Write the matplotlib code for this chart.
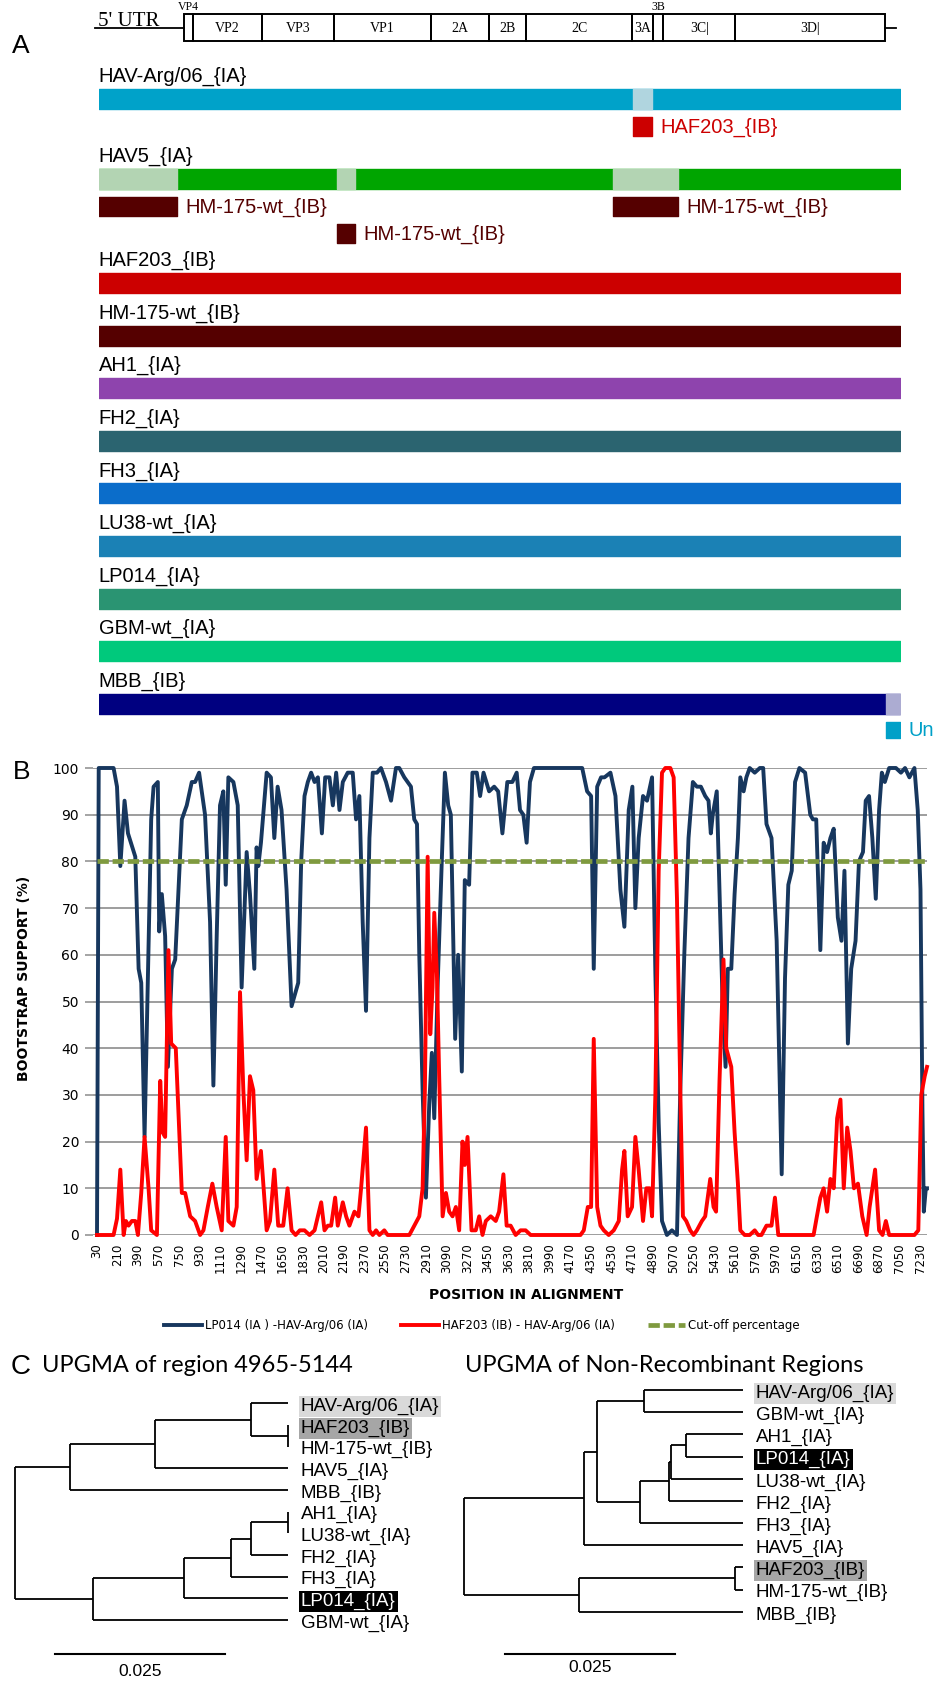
import numpy as np
import matplotlib.pyplot as plt
from matplotlib.patches import Rectangle
from matplotlib.lines import Line2D

# ---------------- panel A data ----------------
genome_len = 7450
gene_bounds = [790, 880, 1520, 2190, 3085, 3630, 3970, 4960, 5150, 5245, 5918, 7310]
gene_names = ["VP4", "VP2", "VP3", "VP1", "2A", "2B", "2C", "3A", "3B", "3C|", "3D|"]

strains = ["HAV-Arg/06_{IA}", "HAV5_{IA}", "HAF203_{IB}", "HM-175-wt_{IB}", "AH1_{IA}",
           "FH2_{IA}", "FH3_{IA}", "LU38-wt_{IA}", "LP014_{IA}", "GBM-wt_{IA}", "MBB_{IB}"]
strain_colors = ["#00a2c9", "#00a500", "#cc0000", "#550000", "#8e44ad",
                 "#2b6470", "#0b6dca", "#1b81b5", "#2a9472", "#00c97c", "#000080"]

# recombinant regions: (strain index, start, end)
recomb_regions = [(0, 4965, 5144), (1, 0, 733), (1, 2220, 2386), (1, 4783, 5383), (10, 7314, 7450)]
recomb_shade = ["#b0d5df", "#b3d4b3", "#b3d4b3", "#b3d4b3", "#acacd2"]
donors = ["HAF203_{IB}", "HM-175-wt_{IB}", "HM-175-wt_{IB}", "HM-175-wt_{IB}", "Un"]
donor_colors = ["#cc0000", "#550000", "#550000", "#550000", "#00a0c8"]
donor_row = [0, 0, 1, 0, 0]

# ---------------- panel B data ----------------
pos_lp014 = [30, 45, 175, 205, 234, 271, 301, 365, 394, 417, 446, 504, 525, 562, 574, 597, 626, 650, 685, 714,
             772, 815, 859, 888, 923, 975, 1019, 1048, 1077, 1106, 1135, 1156, 1179, 1223, 1261, 1295, 1339, 1368,
             1406, 1426, 1441, 1464, 1514, 1551, 1581, 1610, 1644, 1688, 1732, 1790,
             1816, 1845, 1874, 1903, 1933, 1962, 1997, 2026, 2063, 2093, 2122, 2151, 2180, 2223, 2267, 2296, 2325,
             2354, 2383, 2413, 2442, 2479, 2514, 2558, 2602, 2645, 2674, 2718, 2776, 2805, 2829, 2849, 2878, 2907,
             2936, 2959, 2980, 3009, 3047, 3073, 3102, 3125, 3163, 3189, 3221, 3247, 3285, 3314, 3352, 3381, 3411,
             3460, 3504, 3539, 3576,
             3619, 3663, 3701, 3730, 3759, 3788, 3817, 3852, 4274, 4317, 4352, 4375, 4405, 4439, 4469, 4521, 4565,
             4608, 4643, 4681, 4713, 4739, 4768, 4806, 4841, 4885, 4914, 4943, 4972, 5015, 5059, 5103, 5132, 5167,
             5204, 5242, 5277, 5312, 5350, 5379, 5399,
             5416, 5451, 5475, 5504, 5528, 5548, 5578, 5607, 5636, 5657, 5686, 5710, 5739, 5783, 5828, 5857, 5886,
             5930, 5975, 6019, 6048, 6077, 6107, 6136, 6174, 6224, 6269, 6292, 6321, 6357, 6386, 6416, 6445, 6474,
             6510, 6542, 6568, 6598, 6627, 6665, 6695, 6730, 6754, 6783, 6812, 6842, 6871, 6895, 6921, 6959, 7018,
             7062, 7098, 7136, 7180, 7209, 7233, 7250, 7262, 7280, 7290]
boot_lp014 = [0, 100, 100, 96, 79, 93, 86, 81, 57, 54, 21, 89, 96, 97, 65, 73, 64, 36, 57, 59,
              89, 92, 97, 97, 99, 90, 67, 32, 64, 92, 95, 75, 98, 97, 92, 53, 82, 73,
              57, 83, 79, 84, 99, 98, 85, 96, 91, 74, 49, 54,
              80, 94, 97, 99, 97, 98, 86, 98, 98, 92, 99, 91, 97, 99, 99, 89, 94,
              67, 48, 85, 99, 99, 100, 97, 93, 100, 100, 98, 96, 89, 88, 60, 31, 8,
              28, 39, 25, 53, 81, 99, 92, 90, 42, 60, 35, 76, 75, 99, 99, 94, 99,
              95, 96, 95, 86,
              97, 97, 99, 91, 90, 84, 97, 100, 100, 95, 94, 57, 96, 98, 98, 99, 94,
              74, 66, 91, 96, 70, 85, 94, 93, 98, 56, 24, 3, 0, 1, 0, 31, 60,
              85, 97, 96, 96, 94, 93, 86,
              90, 95, 74, 48, 36, 57, 57, 73, 85, 98, 95, 98, 100, 99, 100, 100, 88,
              85, 63, 13, 55, 75, 78, 97, 100, 99, 90, 89, 89, 61, 84, 82, 85, 87,
              68, 63, 78, 41, 57, 63, 80, 82, 93, 94, 85, 72, 91, 99, 97, 100, 100,
              99, 100, 98, 100, 91, 74, 27, 5, 10, 10]

pos_haf203 = [30, 175, 205, 234, 263, 283, 306, 335, 365, 388, 417, 446, 481, 504, 554, 583, 603, 626, 655, 679,
              719, 772, 801, 845, 888, 932, 961, 999, 1039, 1077, 1121, 1156, 1179, 1223, 1252, 1281, 1310, 1339,
              1368, 1397, 1426, 1464, 1514, 1543, 1581, 1615, 1659, 1697, 1732, 1767, 1804,
              1845, 1889, 1933, 1962, 1991, 2020, 2049, 2078, 2113, 2136, 2180, 2209, 2238, 2282, 2317, 2340, 2383,
              2413, 2442, 2471, 2500, 2543, 2572, 2762, 2805, 2849, 2878, 2898, 2922, 2945, 2965, 2980, 3003, 3023,
              3053, 3082, 3111, 3140, 3169, 3198, 3227, 3247, 3271, 3306, 3343, 3373, 3402, 3431, 3474, 3518, 3547,
              3585,
              3613, 3648, 3692, 3735, 3779, 3823, 4259, 4288, 4323, 4352, 4375, 4405, 4434, 4463, 4506, 4550, 4594,
              4623, 4643, 4672, 4710, 4739, 4768, 4806, 4835, 4864, 4885, 4914, 4943, 4972, 5001, 5045, 5074, 5103,
              5132, 5155, 5184, 5219, 5248, 5277, 5321, 5350, 5394, 5423,
              5445, 5475, 5510, 5534, 5578, 5607, 5636, 5657, 5695, 5739, 5783, 5813, 5842, 5886, 5930, 5960, 5989,
              6298, 6327, 6357, 6386, 6416, 6445, 6474, 6504, 6533, 6562, 6592, 6621, 6651, 6686, 6724, 6762, 6788,
              6836, 6871, 6901, 6930, 6959, 7180, 7214, 7240, 7270, 7290]
boot_haf203 = [0, 0, 3.5, 14, 0, 3, 2, 3, 3, 0, 9, 21, 10, 1, 0, 33, 22, 21, 61, 41,
               40, 9, 9, 4, 3, 0, 1, 6, 11, 6, 1, 21, 3, 2, 6, 52, 31, 16,
               34, 31, 12, 18, 1, 3, 14, 2, 2, 10, 1, 0, 1,
               1, 0, 1, 4, 7, 1, 2, 2, 8, 2, 7, 4, 2, 5, 4, 10, 23,
               1, 0, 1, 0, 1, 0, 0, 2, 4, 10, 31, 81, 43, 53, 69, 56, 34,
               4, 9, 5, 4, 6, 1, 20, 15, 21, 1, 1, 4, 0, 3, 4, 3, 5,
               13,
               2, 2, 0, 1, 1, 0, 0, 1, 6, 6, 42, 6, 2, 1, 0, 1, 3,
               14, 18, 4, 6, 21, 14, 3, 10, 10, 4, 30, 78, 99, 100, 100, 98, 72,
               31, 4, 3, 1, 0, 1, 3, 4, 12, 6,
               5, 33, 59, 40, 36, 22, 11, 1, 0, 0, 1, 0, 0, 2, 2, 8, 0,
               0, 4, 8, 10, 5, 12, 10, 25, 29, 10, 23, 18, 10, 11, 4, 0, 6,
               14, 1, 0, 3, 0, 0, 1, 30, 34, 36]
cutoff = 80
xtick_pos = list(range(30, 7231, 180))

# ---------------- panel C data ----------------
left_leaves = ["HAV-Arg/06_{IA}", "HAF203_{IB}", "HM-175-wt_{IB}", "HAV5_{IA}", "MBB_{IB}", "AH1_{IA}",
               "LU38-wt_{IA}", "FH2_{IA}", "FH3_{IA}", "LP014_{IA}", "GBM-wt_{IA}"]
# (child a, child b, node height); new clusters are numbered after the leaves
left_joins = [(1, 2, 0.0), (0, 11, 0.0054), (12, 3, 0.0196), (13, 4, 0.0321), (5, 6, 0.0),
              (15, 7, 0.0054), (16, 8, 0.0084), (17, 9, 0.0153), (18, 10, 0.0287), (14, 19, 0.0401)]
right_leaves = ["HAV-Arg/06_{IA}", "GBM-wt_{IA}", "AH1_{IA}", "LP014_{IA}", "LU38-wt_{IA}", "FH2_{IA}",
                "FH3_{IA}", "HAV5_{IA}", "HAF203_{IB}", "HM-175-wt_{IB}", "MBB_{IB}"]
right_joins = [(0, 1, 0.01456), (2, 3, 0.00838), (12, 4, 0.01059), (13, 5, 0.01088), (14, 6, 0.01515),
               (11, 15, 0.02147), (16, 7, 0.02338), (8, 9, 0.00118), (18, 10, 0.02412), (17, 19, 0.04103)]
highlight = {"HAV-Arg/06_{IA}": ("#d9d9d9", "black"), "HAF203_{IB}": ("#a6a6a6", "black"),
             "LP014_{IA}": ("black", "white")}
scale_len = 0.025

# ---------------- figure ----------------
W, H = 936, 1695
fig = plt.figure(figsize=(W / 100, H / 100), dpi=100)
SANS = ["Liberation Sans", "DejaVu Sans"]
SERIF = ["Liberation Serif", "DejaVu Serif"]


def rect(x0, y0, x1, y1):
    # pixel box -> figure fraction rect
    return [x0 / W, 1 - y1 / H, (x1 - x0) / W, (y1 - y0) / H]


# panel A
ax_a = fig.add_axes(rect(98.5, 0, 900.3, 745))
ax_a.set_xlim(0, genome_len)
ax_a.set_ylim(745, 0)
ax_a.axis("off")

gy0, gy1 = 14, 41
gmid = (gy0 + gy1) / 2
ax_a.plot([-28, gene_bounds[0]], [gmid, gmid], color="k", lw=1.3, clip_on=False)
ax_a.plot([gene_bounds[-1], 7408], [gmid, gmid], color="k", lw=1.3, clip_on=False)
ax_a.text(0, gmid - 1.5, "5' UTR", family=SERIF, fontsize=15, ha="left", va="baseline")
for i, name in enumerate(gene_names):
    b0, b1 = gene_bounds[i], gene_bounds[i + 1]
    ax_a.add_patch(Rectangle((b0, gy0), b1 - b0, gy1 - gy0, fill=False, ec="k", lw=1.4))
    if name in ("VP4", "3B"):
        ax_a.text((b0 + b1) / 2, gy0 - 7, name, family=SERIF, fontsize=8.5, ha="center", va="center")
    else:
        ax_a.text((b0 + b1) / 2, gmid + 1, name, family=SERIF, fontsize=10, ha="center", va="center")

bar_h = 20
bar_top = [89, 169, 273, 325.6, 378.2, 430.8, 483.4, 536, 588.6, 641.2, 693.8]
for i, name in enumerate(strains):
    ax_a.broken_barh([(0, genome_len)], (bar_top[i], bar_h), color=strain_colors[i])
    ax_a.text(0, bar_top[i] - 7, name, family=SANS, fontsize=14.5, ha="left", va="baseline")

for k, (si, s, e) in enumerate(recomb_regions):
    ax_a.broken_barh([(s, e - s)], (bar_top[si], bar_h), color=recomb_shade[k])
    dy = bar_top[si] + bar_h + 8 + donor_row[k] * 26.5
    dh = 19 if donors[k] != "Un" else 16
    ax_a.broken_barh([(s, e - s)], (dy, dh), color=donor_colors[k])
    ax_a.text(e + 75, dy + dh / 2 + 1, donors[k], family=SANS, fontsize=14.5, color=donor_colors[k],
              ha="left", va="center", clip_on=False)

fig.text(21 / W, 1 - 46 / H, "A", family=SANS, fontsize=19, ha="center", va="center")

# panel B
ax_b = fig.add_axes(rect(93, 768, 927, 1235))
ax_b.plot(pos_lp014, boot_lp014, color="#17375e", lw=2.8, solid_joinstyle="round", clip_on=False)
ax_b.plot(pos_haf203, boot_haf203, color="#ff0000", lw=2.8, solid_joinstyle="round", clip_on=False)
ax_b.plot([pos_lp014[0], pos_lp014[-1]], [cutoff, cutoff], color="#7f9a3f", lw=3.4,
          dashes=(2.4, 0.8), clip_on=False)
ax_b.set_xlim(-5, 7290)
ax_b.set_ylim(0, 100)
ax_b.set_yticks(range(0, 101, 10))
ax_b.set_xticks(xtick_pos)
ax_b.set_xticklabels([str(v) for v in xtick_pos], rotation=90, fontsize=8.5)
ax_b.tick_params(axis="y", length=6, color="#8c8c8c", width=1.1, pad=4, labelsize=10)
ax_b.tick_params(axis="x", length=0, pad=6)
ax_b.grid(axis="y", color="#8c8c8c", lw=1.2)
ax_b.set_axisbelow(True)
for sp in ax_b.spines.values():
    sp.set_visible(False)

fig.text(22 / W, 1 - 772 / H, "B", family=SANS, fontsize=19, ha="center", va="center")
fig.text(24 / W, 1 - 978 / H, "BOOTSTRAP SUPPORT (%)", fontsize=10, fontweight="bold",
         rotation=90, ha="center", va="center")
fig.text(526 / W, 1 - 1295 / H, "POSITION IN ALIGNMENT", fontsize=10, fontweight="bold",
         ha="center", va="center")

handles = [Line2D([], [], color="#17375e", lw=2.8),
           Line2D([], [], color="#ff0000", lw=2.8),
           Line2D([], [], color="#7f9a3f", lw=3.4, dashes=(2.4, 0.8))]
labels = ["LP014 (IA ) -HAV-Arg/06 (IA)", "HAF203 (IB) - HAV-Arg/06 (IA)", "Cut-off percentage"]
fig.legend(handles, labels, ncol=3, loc="center", bbox_to_anchor=(482 / W, 1 - 1326 / H),
           frameon=False, fontsize=8.5, handlelength=3.2, handletextpad=0.25, columnspacing=2.8)


# panel C
def draw_tree(ax, leaves, joins):
    ys = [float(i) for i in range(len(leaves))]
    xs = [0.0] * len(leaves)
    for a, b, h in joins:
        x = -h
        ax.plot([x, x], [ys[a], ys[b]], color="k", lw=1.3, solid_capstyle="butt")
        ax.plot([x, xs[a]], [ys[a], ys[a]], color="k", lw=1.3, solid_capstyle="butt")
        ax.plot([x, xs[b]], [ys[b], ys[b]], color="k", lw=1.3, solid_capstyle="butt")
        ys.append((ys[a] + ys[b]) / 2)
        xs.append(x)
    for i, name in enumerate(leaves):
        fc, tc = highlight.get(name, (None, "black"))
        box = dict(facecolor=fc, edgecolor="none", pad=1.5) if fc else None
        ax.text(0.0019, i + 0.15, name, family=SANS, fontsize=13.5, color=tc,
                ha="left", va="center", bbox=box)


# left tree: tips at px 288, leaf 0 line at py 1403.3, spacing 21.65
ax_l = fig.add_axes(rect(0, 1380, 470, 1695))
ax_l.set_xlim(-288 / 6800, 182 / 6800)
ax_l.set_ylim((1695 - 1403.3) / 21.65, (1380 - 1403.3) / 21.65)
ax_l.axis("off")
draw_tree(ax_l, left_leaves, left_joins)
sb_y = (1654 - 1403.3) / 21.65
ax_l.plot([-233 / 6800, -233 / 6800 + scale_len], [sb_y, sb_y], color="k", lw=1.5)
ax_l.text(-233 / 6800 + scale_len / 2, (1672 - 1403.3) / 21.65, "0.025", family=SANS, fontsize=12.5,
          ha="center", va="center")

# right tree: tips at px 743, leaf 0 line at py 1390, spacing 22.17
ax_r = fig.add_axes(rect(460, 1375, 936, 1695))
ax_r.set_xlim((460 - 743) / 6800, (936 - 743) / 6800)
ax_r.set_ylim((1695 - 1390) / 22.17, (1375 - 1390) / 22.17)
ax_r.axis("off")
draw_tree(ax_r, right_leaves, right_joins)
sb_y = (1654 - 1390) / 22.17
ax_r.plot([-238 / 6800, -238 / 6800 + scale_len], [sb_y, sb_y], color="k", lw=1.5)
ax_r.text(-238 / 6800 + scale_len / 2, (1667 - 1390) / 22.17, "0.025", family=SANS, fontsize=12.5,
          ha="center", va="center")

TITLE = ["Lato", "DejaVu Sans"]
fig.text(21 / W, 1 - 1367 / H, "C", family=SANS, fontsize=20, ha="center", va="center")
fig.text(42 / W, 1 - 1365 / H, "UPGMA of region 4965-5144", family=TITLE, fontsize=17,
         ha="left", va="center")
fig.text(465 / W, 1 - 1365 / H, "UPGMA of Non-Recombinant Regions", family=TITLE, fontsize=17,
         ha="left", va="center")

fig.savefig("out.png", dpi=100)
